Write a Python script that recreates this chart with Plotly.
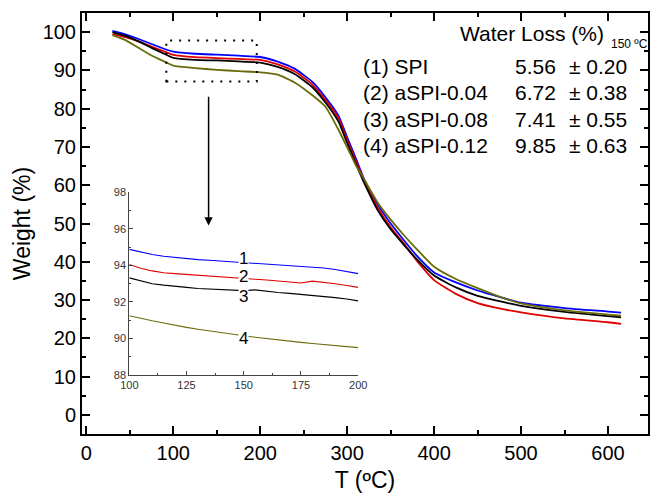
import plotly.graph_objects as go

# ---------------- data ----------------
T_main = [30, 45, 60, 75, 90, 100, 125, 150, 175, 200, 220, 240, 260, 275, 290, 300, 310, 320,
          335, 350, 365, 380, 400, 425, 450, 475, 500, 550, 600, 615]
w_spi = [100.3, 99.4, 98.2, 96.9, 95.6, 94.9, 94.35, 94.1, 93.85, 93.5, 92.3, 90.4, 87.0, 83.0,
         78.2, 72.5, 67.0, 61.3, 55.0, 50.0, 45.7, 41.6, 37.2, 34.6, 32.5, 30.8, 29.3, 27.9,
         27.0, 26.7]
w_a004 = [99.5, 98.7, 97.6, 96.2, 94.9, 94.05, 93.45, 93.2, 93.0, 92.75, 91.6, 89.7, 86.3, 82.3,
          77.5, 71.8, 66.4, 60.9, 54.2, 49.0, 44.8, 40.3, 35.2, 31.6, 29.2, 27.8, 26.8, 25.2,
          24.2, 23.8]
w_a008 = [100.0, 99.0, 97.6, 95.9, 94.3, 93.3, 92.75, 92.6, 92.35, 92.05, 90.9, 89.0, 85.6, 81.6,
          76.6, 71.0, 65.6, 60.4, 53.5, 48.5, 44.5, 40.7, 36.4, 33.3, 31.1, 29.7, 28.5, 26.9,
          25.8, 25.5]
w_a012 = [99.2, 97.9, 95.9, 93.9, 92.3, 91.25, 90.6, 90.15, 89.8, 89.5, 88.9, 86.8, 83.5, 80.5,
          74.5, 69.9, 65.2, 61.3, 55.5, 51.0, 47.0, 43.3, 38.7, 35.5, 33.1, 30.9, 29.1, 27.3,
          26.2, 25.9]

T_inset = [100, 105, 110, 115, 120, 125, 130, 135, 140, 145, 150, 155, 160, 165, 170, 175,
           180, 185, 190, 195, 200]
i_spi = [94.88, 94.72, 94.6, 94.5, 94.43, 94.37, 94.32, 94.28, 94.24, 94.2, 94.15, 94.12, 94.08,
         94.04, 94.0, 93.96, 93.91, 93.86, 93.78, 93.67, 93.55]
i_a004 = [94.05, 93.85, 93.7, 93.6, 93.55, 93.5, 93.45, 93.4, 93.36, 93.32, 93.28, 93.24, 93.2,
          93.15, 93.1, 93.04, 93.14, 93.08, 93.0, 92.9, 92.8]
i_a008 = [93.32, 93.15, 93.0, 92.92, 92.84, 92.8, 92.74, 92.72, 92.69, 92.66, 92.62, 92.66, 92.58,
          92.52, 92.47, 92.42, 92.36, 92.3, 92.24, 92.16, 92.06]
i_a012 = [91.25, 91.1, 90.97, 90.85, 90.72, 90.61, 90.51, 90.41, 90.32, 90.23, 90.15, 90.07,
          89.99, 89.92, 89.85, 89.79, 89.73, 89.67, 89.61, 89.55, 89.5]

names = ["(1) SPI", "(2) aSPI-0.04", "(3) aSPI-0.08", "(4) aSPI-0.12"]
loss_mean = ["5.56", "6.72", "7.41", "9.85"]
loss_sd = ["± 0.20", "± 0.38", "± 0.55", "± 0.63"]
inset_labels = ["1", "2", "3", "4"]
inset_label_y = [94.39, 93.38, 92.32, 90.0]

colors = ["#0000FF", "#E00000", "#000000", "#6B6B0A"]
FONT = "Liberation Sans, Arial, sans-serif"

fig = go.Figure()
main_series = [w_spi, w_a004, w_a008, w_a012]
inset_series = [i_spi, i_a004, i_a008, i_a012]
for ys, c, n in zip(main_series, colors, names):
    fig.add_trace(go.Scatter(x=T_main, y=ys, mode="lines", name=n,
                             line=dict(color=c, width=1.8, shape="spline", smoothing=0.5),
                             showlegend=False, xaxis="x", yaxis="y"))
for ys, c, n in zip(inset_series, colors, names):
    fig.add_trace(go.Scatter(x=T_inset, y=ys, mode="lines", name=n,
                             line=dict(color=c, width=1.1),
                             showlegend=False, xaxis="x2", yaxis="y2"))

axis_common = dict(showline=True, linecolor="black", linewidth=2, mirror="allticks",
                   ticks="inside", tickcolor="black", tickwidth=2, ticklen=8,
                   showgrid=False, zeroline=False, automargin=False,
                   tickfont=dict(family=FONT, size=20, color="black"))

fig.update_layout(
    width=652, height=495,
    margin=dict(l=82, r=4, t=13, b=61, autoexpand=False),
    paper_bgcolor="white", plot_bgcolor="white",
    font=dict(family=FONT, color="black"),
    xaxis=dict(range=[-5, 646], tickmode="linear", tick0=0, dtick=100,
               minor=dict(ticks="inside", dtick=50, ticklen=4, tickwidth=2, tickcolor="black"),
               title=dict(text="T (ºC)", font=dict(family=FONT, size=23), standoff=9),
               **axis_common),
    yaxis=dict(range=[-5, 105], tickmode="linear", tick0=0, dtick=10,
               minor=dict(ticks="inside", dtick=5, ticklen=4, tickwidth=2, tickcolor="black"),
               title=dict(text="Weight (%)", font=dict(family=FONT, size=23), standoff=6),
               **axis_common),
    xaxis2=dict(domain=[0.0836, 0.488], anchor="y2", range=[100, 200],
                tickmode="linear", tick0=100, dtick=25, automargin=False,
                minor=dict(ticks="inside", dtick=12.5, ticklen=2, tickcolor="#444"),
                showline=True, linecolor="#444", linewidth=1, ticks="inside", ticklen=4,
                tickcolor="#444", showgrid=False, zeroline=False,
                tickfont=dict(family=FONT, size=11, color="#333")),
    yaxis2=dict(domain=[0.140, 0.574], anchor="x2", range=[88, 98],
                tickmode="linear", tick0=88, dtick=2, automargin=False,
                minor=dict(ticks="inside", dtick=1, ticklen=2, tickcolor="#444"),
                showline=True, linecolor="#444", linewidth=1, ticks="inside", ticklen=4,
                tickcolor="#444", showgrid=False, zeroline=False,
                tickfont=dict(family=FONT, size=11, color="#333")),
)

# dotted zoom box
fig.add_shape(type="rect", xref="x", yref="y", x0=92, x1=196, y0=87.1, y1=97.8,
              line=dict(color="black", width=2, dash="2px,7px"))

annotations = []
# arrow
annotations.append(dict(x=140.6, y=49.5, ax=140.6, ay=83.5, xref="x", yref="y",
                        axref="x", ayref="y", text="", showarrow=True,
                        arrowhead=2, arrowsize=1.1, arrowwidth=1.5, arrowcolor="black"))
# inset curve labels
for lab, yy in zip(inset_labels, inset_label_y):
    annotations.append(dict(x=150, y=yy, xref="x2", yref="y2", text=lab, showarrow=False,
                            font=dict(family=FONT, size=17, color="black"),
                            bgcolor="white", borderpad=0))
# title of the table
annotations.append(dict(x=0.6638, y=0.9518, xref="paper", yref="paper",
                        text="Water Loss (%)", showarrow=False, xanchor="left", yanchor="middle",
                        font=dict(family=FONT, size=21, color="black")))
annotations.append(dict(x=0.9316, y=0.9257, xref="paper", yref="paper",
                        text="150 ºC", showarrow=False, xanchor="left", yanchor="middle",
                        font=dict(family=FONT, size=12, color="black")))
row_y = [0.8724, 0.8107, 0.7475, 0.6848]
for n, m, s, yy in zip(names, loss_mean, loss_sd, row_y):
    annotations.append(dict(x=0.4924, y=yy, xref="paper", yref="paper", text=n,
                            showarrow=False, xanchor="left", yanchor="middle",
                            font=dict(family=FONT, size=21, color="black")))
    annotations.append(dict(x=0.761, y=yy, xref="paper", yref="paper", text=m,
                            showarrow=False, xanchor="left", yanchor="middle",
                            font=dict(family=FONT, size=21, color="black")))
    annotations.append(dict(x=0.8574, y=yy, xref="paper", yref="paper", text=s,
                            showarrow=False, xanchor="left", yanchor="middle",
                            font=dict(family=FONT, size=21, color="black")))
fig.update_layout(annotations=annotations)

fig.write_html("out.html", config={"displayModeBar": False},
               post_script="document.body.style.margin='0';document.body.style.overflow='hidden';")
